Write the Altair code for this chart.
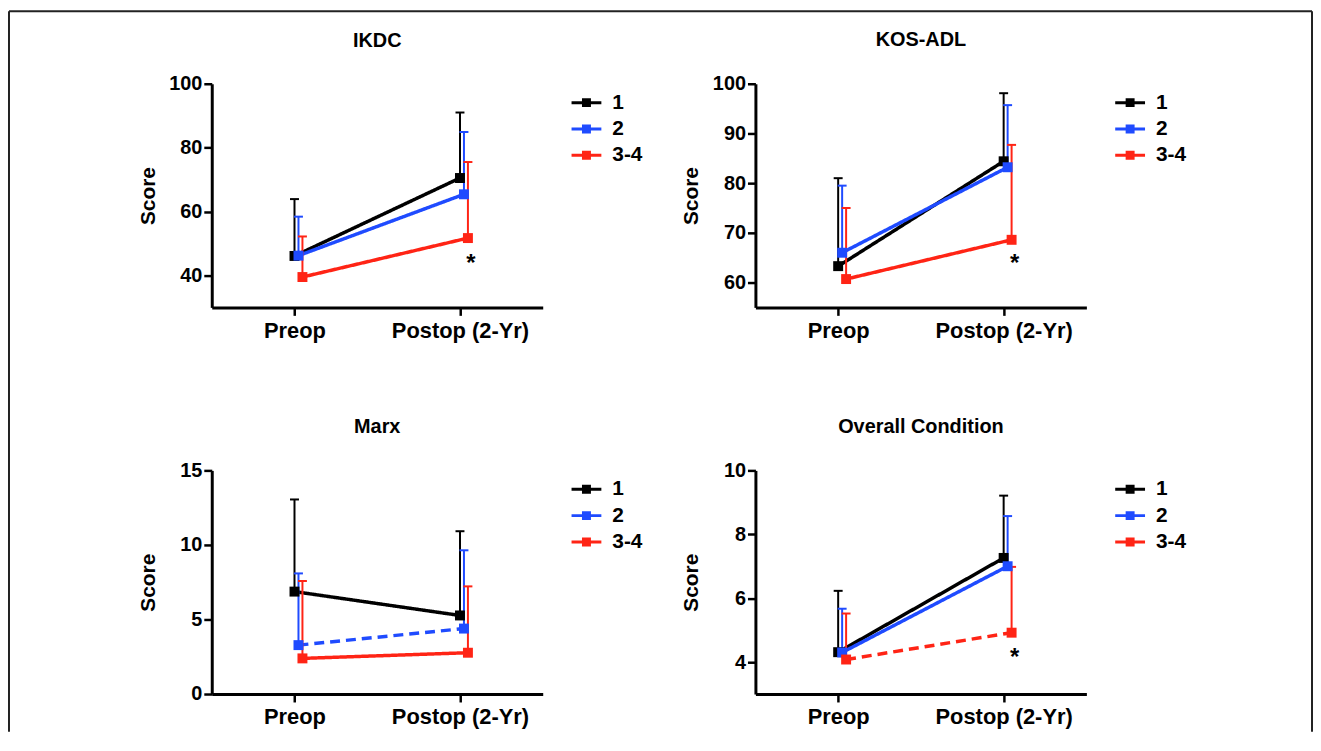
import altair as alt
import pandas as pd

series = ["1", "2", "3-4"]
timepoints = ["Preop", "Postop (2-Yr)"]
colors = ["#000000", "#1f4bff", "#ff2415"]

# means (Preop, Postop) and SD (upper error bar length) per group
ikdc_mean = {"1": [46.1, 70.5], "2": [46.2, 65.4], "3-4": [39.5, 51.7]}
ikdc_sd = {"1": [17.8, 20.5], "2": [12.2, 19.5], "3-4": [12.7, 23.8]}

kos_mean = {"1": [63.3, 84.4], "2": [66.0, 83.2], "3-4": [60.7, 68.6]}
kos_sd = {"1": [17.7, 13.7], "2": [13.5, 12.5], "3-4": [14.3, 19.1]}

marx_mean = {"1": [6.87, 5.27], "2": [3.28, 4.39], "3-4": [2.39, 2.77]}
marx_sd = {"1": [6.18, 5.65], "2": [4.81, 5.25], "3-4": [5.19, 4.45]}

overall_mean = {"1": [4.31, 7.26], "2": [4.30, 7.00], "3-4": [4.08, 4.92]}
overall_sd = {"1": [1.92, 1.95], "2": [1.37, 1.57], "3-4": [1.44, 2.06]}

titles = ["IKDC", "KOS-ADL", "Marx", "Overall Condition"]
domains = [[30, 100], [55, 100], [0, 15], [3, 10]]
tick_values = [[40, 60, 80, 100], [60, 70, 80, 90, 100], [0, 5, 10, 15], [4, 6, 8, 10]]
dashed_series = [None, None, "2", "3-4"]
star_values = [45.5, 65.0, None, 4.30]

FONT = "Liberation Sans"
W, H = 333, 225

symbol_path = "M-1,-0.1H1V0.1H-1Z M-0.3,-0.3H0.3V0.3H-0.3Z"


def legend_spec():
    return alt.Legend(title=None, orient="none", legendX=W + 29, legendY=4,
                      symbolType=symbol_path, symbolSize=900, symbolStrokeWidth=0,
                      symbolOpacity=1, labelFont=FONT, labelFontSize=21,
                      labelFontWeight="bold", labelColor="black",
                      labelOffset=11, rowPadding=1.5)


def panel(idx, mean, sd, with_frame=False):
    rows = []
    for s in series:
        for t, m, d in zip(timepoints, mean[s], sd[s]):
            rows.append({
                "series": s, "grp": s, "time": t, "mean": m, "upper": m + d,
                "style": "dashed" if dashed_series[idx] == s else "solid",
            })
    df = pd.DataFrame(rows)
    dom = domains[idx]

    x = alt.X("time:N", sort=timepoints, title=None,
              scale=alt.Scale(type="point", padding=0.5),
              axis=alt.Axis(labelFontSize=22, labelPadding=5, labelAngle=0))
    xoff = alt.XOffset("series:N", scale=alt.Scale(type="point", domain=series, range=[0, 8], padding=0))
    yscale = alt.Scale(domain=dom, nice=False, zero=False)
    y = alt.Y("mean:Q", scale=yscale,
              axis=alt.Axis(values=tick_values[idx], title="Score",
                            titleX=-64, titleY=H / 2, titleBaseline="middle",
                            titleAngle=270, labelPadding=2))
    # stroke uses a data-driven domain on its own field so its (hidden) legend stays separate
    stroke_nl = alt.Stroke("grp:N", scale=alt.Scale(range=colors), legend=None)
    fill_lg = alt.Fill("series:N", scale=alt.Scale(domain=series, range=colors), legend=legend_spec())

    base = alt.Chart(df).encode(x=x, xOffset=xoff)

    lines = base.mark_line(strokeWidth=3.5).encode(
        y=y, stroke=stroke_nl,
        strokeDash=alt.StrokeDash("style:N", scale=alt.Scale(domain=["solid", "dashed"], range=[[1, 0], [10, 6]]), legend=None),
    )
    bars = base.mark_rule(strokeWidth=2).encode(y=alt.Y("mean:Q"), y2="upper:Q", stroke=stroke_nl)
    caps = base.mark_tick(thickness=2, size=9, opacity=1).encode(y=alt.Y("upper:Q"), fill=fill_lg)
    squares = base.mark_square(size=100, opacity=1).encode(y=alt.Y("mean:Q"), fill=fill_lg)
    layers = [lines, bars, caps, squares]

    if star_values[idx] is not None:
        sdf = pd.DataFrame({"time": [timepoints[1]], "series": ["3-4"], "mean": [star_values[idx]]})
        star = alt.Chart(sdf).mark_text(text="*", fontSize=24, fontWeight="bold", font=FONT,
                                        color="black", dx=3, dy=6).encode(
            x=x, xOffset=xoff, y=alt.Y("mean:Q"))
        layers.append(star)

    title_dy = 0
    if with_frame:
        fdf = pd.DataFrame({"k": [0]})
        fr = alt.Chart(fdf).mark_rule(color="#222222", strokeWidth=2)
        layers += [
            fr.encode(x=alt.value(-204), y=alt.value(-73), y2=alt.value(652)),
            fr.encode(x=alt.value(-204), x2=alt.value(1107), y=alt.value(-73)),
            fr.encode(x=alt.value(1107), y=alt.value(-73), y2=alt.value(652)),
        ]
        title_dy = 65

    return alt.layer(*layers).properties(
        width=W, height=H,
        title=alt.TitleParams(titles[idx], font=FONT, fontSize=20, fontWeight="bold",
                              color="black", offset=24, anchor="middle", frame="group",
                              dy=title_dy),
    ).resolve_scale(xOffset="shared")


p1 = panel(0, ikdc_mean, ikdc_sd, with_frame=True)
p2 = panel(1, kos_mean, kos_sd)
p3 = panel(2, marx_mean, marx_sd)
p4 = panel(3, overall_mean, overall_sd)

chart = alt.concat(
    p1, p2, p3, p4, columns=2,
    spacing=alt.RowColnumber(row=164, column=214), bounds="flush",
).resolve_scale(
    x="independent", y="independent", fill="independent", stroke="independent",
    xOffset="independent", strokeDash="independent",
).resolve_legend(fill="independent").properties(
    padding=0, background="white",
).configure_axis(
    labelFont=FONT, labelFontSize=20, labelFontWeight="bold", labelColor="black",
    titleFont=FONT, titleFontSize=21, titleFontWeight="bold", titleColor="black",
    domainColor="black", domainWidth=3, tickColor="black", tickWidth=2.5, tickSize=8,
    grid=False,
).configure_view(stroke=None)

chart.save("out.html", embed_options={"renderer": "svg", "actions": False})
